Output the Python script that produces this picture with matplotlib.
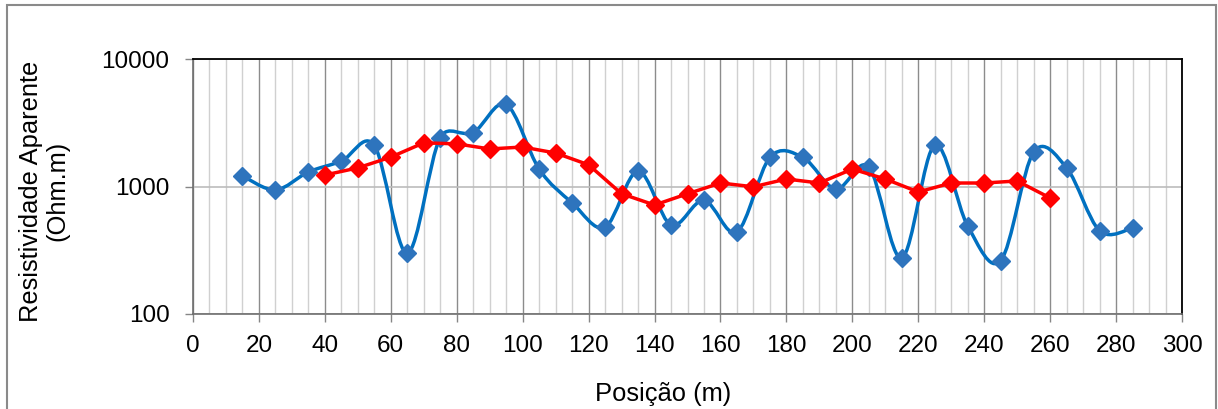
import matplotlib.pyplot as plt
import numpy as np
from matplotlib.path import Path
from matplotlib.patches import PathPatch, Rectangle

plt.rcParams['font.family'] = ['Liberation Sans', 'DejaVu Sans']

# measured apparent resistivity (Ohm.m) along the profile
blue_x = [15, 25, 35, 45, 55, 65, 75, 85, 95, 105, 115, 125, 135, 145,
          155, 165, 175, 185, 195, 205, 215, 225, 235, 245, 255, 265, 275, 285]
blue_y = [1210, 940, 1300, 1580, 2100, 300, 2420, 2650, 4400, 1370, 745, 480,
          1320, 500, 780, 440, 1690, 1690, 955, 1420, 275, 2110, 490, 262,
          1860, 1400, 450, 472]

red_x = [40, 50, 60, 70, 80, 90, 100, 110, 120, 130, 140, 150, 160, 170,
         180, 190, 200, 210, 220, 230, 240, 250, 260]
red_y = [1230, 1400, 1700, 2200, 2160, 1970, 2040, 1830, 1480, 877, 716,
         877, 1065, 995, 1145, 1065, 1370, 1145, 906, 1065, 1065, 1105, 813]

BLUE = '#0070C0'
BLUE_MK = '#2E74BD'
RED = '#FF0000'


def smooth_path(ax, xs, ys):
    # Excel style smoothed line, built in screen space then mapped back to data
    pts = ax.transData.transform(np.column_stack([xs, ys]))
    n = len(pts)
    verts = [pts[0]]
    codes = [Path.MOVETO]
    for i in range(n - 1):
        p0 = pts[max(i - 1, 0)]
        p1 = pts[i]
        p2 = pts[i + 1]
        p3 = pts[min(i + 2, n - 1)]
        d12 = np.hypot(*(p2 - p1))
        d02 = np.hypot(*(p2 - p0))
        d13 = np.hypot(*(p3 - p1))
        f1 = 1 / 6 if d02 / 6 < d12 / 2 else d12 / (2 * d02)
        f2 = 1 / 6 if d13 / 6 < d12 / 2 else d12 / (2 * d13)
        verts += [p1 + f1 * (p2 - p0), p2 - f2 * (p3 - p1), p2]
        codes += [Path.CURVE4] * 3
    data = ax.transData.inverted().transform(np.array(verts))
    return Path(data, codes)


fig = plt.figure(figsize=(12.18, 4.09), dpi=100)
ax = fig.add_axes([193 / 1218, 1 - 314 / 409, (1182 - 193) / 1218, (314 - 59) / 409])

ax.set_yscale('log')
ax.set_xlim(0, 300)
ax.set_ylim(100, 10000)

ax.add_patch(PathPatch(smooth_path(ax, blue_x, blue_y), fill=False, edgecolor=BLUE,
                       lw=2.5, zorder=3, capstyle='round', joinstyle='round'))
ax.plot(blue_x, blue_y, ls='none', marker='D', ms=9, color=BLUE_MK, zorder=4)
ax.plot(red_x, red_y, color=RED, lw=2.5, marker='D', ms=9, zorder=5)

ax.set_xticks(range(0, 301, 20))
ax.set_xticks(range(0, 301, 5), minor=True)
ax.set_yticks([100, 1000, 10000])
ax.set_yticklabels(['100', '1000', '10000'])
ax.yaxis.set_minor_locator(plt.NullLocator())
ax.grid(True, which='minor', axis='x', color='#d0d0d0', lw=1)
ax.grid(True, which='major', axis='x', color='#8c8c8c', lw=1)
ax.grid(True, which='major', axis='y', color='#bcbcbc', lw=1.2)
ax.set_axisbelow(True)
ax.tick_params(axis='x', which='minor', length=0)
ax.tick_params(axis='both', which='major', labelsize=17.5, length=6, width=1,
               color='#868686', direction='out')
ax.tick_params(axis='y', pad=11)
ax.tick_params(axis='x', pad=9)
for side in ['top', 'right']:
    ax.spines[side].set_color('#000000')
    ax.spines[side].set_linewidth(1.3)
for side in ['left', 'bottom']:
    ax.spines[side].set_color('#6e6e6e')
    ax.spines[side].set_linewidth(1.2)

fig.text(44 / 1218, 1 - 191 / 409, 'Resistividade Aparente\n(Ohm.m)', rotation=90,
         ha='center', va='center', fontsize=18.4, linespacing=1.15)
fig.text(663 / 1218, 1 - 394 / 409, 'Posição (m)', ha='center', va='center', fontsize=18.4)

fig.add_artist(Rectangle((7 / 1218, -0.05), (1216 - 7) / 1218, 1.05 - 5 / 409,
                         transform=fig.transFigure, fill=False,
                         edgecolor='#8a8a8a', lw=1.5))

fig.savefig('out.png', dpi=100)
